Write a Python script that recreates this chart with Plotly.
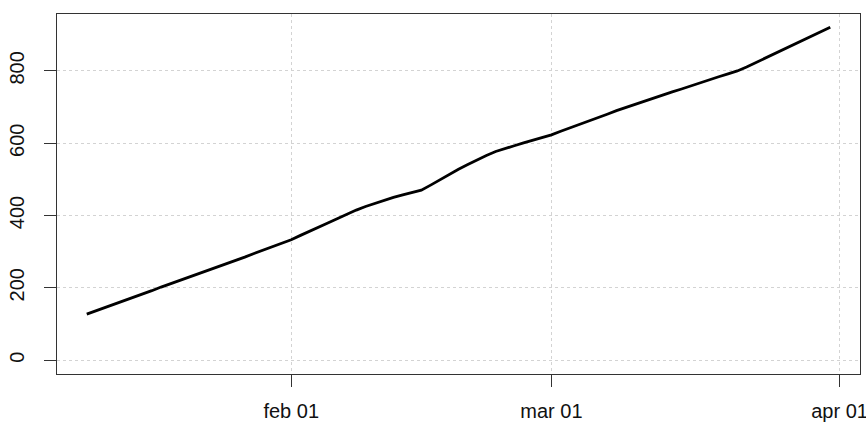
import plotly.graph_objects as go
import pandas as pd

dates = pd.date_range("2013-01-10", "2013-03-31", freq="D")

values_jan = [127, 136, 146, 155, 164, 174, 183, 192, 202, 211, 220, 229, 238, 247,
              256, 266, 275, 285, 295, 304, 314, 323]
values_feb = [333, 345, 356, 368, 380, 392, 404, 415, 425, 434, 442, 450, 457, 464,
              470, 484, 499, 514, 528, 541, 554, 566, 577, 586, 593, 601, 608, 615]
values_mar = [623, 633, 642, 652, 661, 671, 680, 690, 699, 707, 716, 724, 733, 742,
              750, 759, 767, 776, 784, 792, 800, 811, 823, 835, 848, 860, 871, 883,
              895, 908, 921]
values = values_jan + values_feb + values_mar

x_tickvals = ["2013-02-01", "2013-03-01", "2013-04-01"]
x_ticktext = ["feb 01", "mar 01", "apr 01"]
y_tickvals = [0, 200, 400, 600, 800]
y_ticktext = ["0", "200", "400", "600", "800"]

fig = go.Figure()
fig.add_trace(go.Scatter(x=dates, y=values, mode="lines",
                         line=dict(color="black", width=2.8), showlegend=False))

axis_common = dict(showline=True, mirror=True, linecolor="#333333", linewidth=1,
                   ticks="outside", ticklen=12, tickcolor="#333333", tickwidth=1,
                   showgrid=True, gridcolor="#d3d3d3", griddash="dot", gridwidth=1,
                   zeroline=False, automargin=False, ticklabeloverflow="allow",
                   tickfont=dict(family="Liberation Sans, Arial", size=20, color="#111111"))

fig.update_layout(
    width=866, height=422, autosize=False,
    margin=dict(l=57, r=6, t=14, b=48),
    plot_bgcolor="white", paper_bgcolor="white",
    xaxis=dict(type="date", range=["2013-01-06 19:12", "2013-04-03 04:48"],
               tickmode="array", tickvals=x_tickvals, ticktext=x_ticktext,
               ticklabelstandoff=7, **axis_common),
    yaxis=dict(range=[-38.5, 957.5], tickmode="array", tickvals=y_tickvals,
               ticktext=y_ticktext, tickangle=-90, ticklabelstandoff=12, **axis_common),
)

fig.write_html("out.html", config={"displayModeBar": False},
               post_script="document.body.style.margin='0px';document.body.style.overflow='hidden';")
